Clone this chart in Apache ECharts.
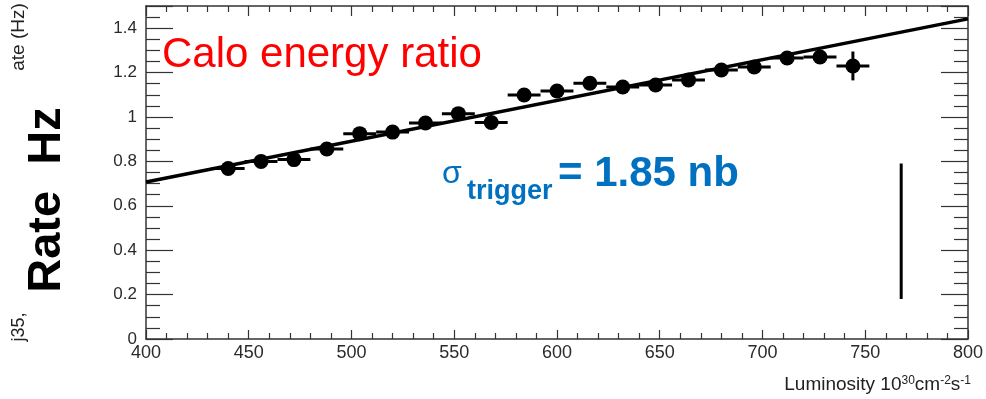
<!DOCTYPE html>
<html>
<head>
<meta charset="utf-8">
<script src="https://cdn.jsdelivr.net/npm/echarts@6/dist/echarts.min.js"></script>
<style>
  html, body { margin: 0; padding: 0; background: #fff; }
  #chart { width: 986px; height: 399px; }
</style>
</head>
<body>
<div id="chart"></div>
<script>
// measured points (luminosity bin centres, rate in Hz)
const lumi = [440, 456, 472, 488, 504, 520, 536, 552, 568, 584, 600, 616, 632, 648, 664, 680, 696, 712, 728, 744]
const rate = [0.768, 0.80, 0.808, 0.856, 0.925, 0.932, 0.973, 1.015, 0.975, 1.099, 1.117, 1.152, 1.135, 1.144, 1.167, 1.212, 1.225, 1.266, 1.27, 1.23]
const lumiErr = [8, 8, 8, 8, 8, 8, 8, 8, 8, 8, 8, 8, 8, 8, 8, 8, 8, 8, 8, 8]
const rateErr = [0.02, 0.02, 0.02, 0.02, 0.02, 0.02, 0.02, 0.02, 0.02, 0.02, 0.02, 0.02, 0.02, 0.02, 0.02, 0.02, 0.02, 0.025, 0.025, 0.065]

// linear fit
const fitLumi = [400, 800]
const fitRate = [0.707, 1.442]

// stray vertical bar on the right
const barLumi = [767.5, 767.5]
const barRate = [0.18, 0.79]

const xTicks = { min: 400, max: 800, interval: 50 }
const yTicks = { min: 0, max: 1.5, interval: 0.2 }

const axisColor = '#333'
const font = 'Liberation Sans, Arial, sans-serif'

const chart = echarts.init(document.getElementById('chart'), null, { renderer: 'canvas' })

const points = lumi.map((x, i) => [x, rate[i], lumiErr[i], rateErr[i]])

chart.setOption({
  animation: false,
  backgroundColor: '#fff',
  grid: {
    left: 146,
    right: 14,
    top: 6,
    bottom: 60
  },
  xAxis: [
    {
      type: 'value',
      position: 'bottom',
      min: xTicks.min,
      max: xTicks.max,
      interval: xTicks.interval,
      axisLine: { show: true, onZero: false, lineStyle: { color: axisColor, width: 1.5 } },
      axisTick: { show: true, inside: true, length: 9, lineStyle: { color: axisColor, width: 1.2 } },
      minorTick: { show: true, splitNumber: 5, length: 6, lineStyle: { color: axisColor, width: 1.2 } },
      splitLine: { show: false },
      axisLabel: { color: '#2a2a2a', fontSize: 18, fontFamily: font, margin: 5 }
    },
    {
      type: 'value',
      position: 'top',
      min: xTicks.min,
      max: xTicks.max,
      interval: xTicks.interval,
      axisLine: { show: true, onZero: false, lineStyle: { color: axisColor, width: 1.5 } },
      axisTick: { show: true, inside: true, length: 10, lineStyle: { color: axisColor, width: 1.2 } },
      minorTick: { show: true, splitNumber: 5, length: 6, lineStyle: { color: axisColor, width: 1.2 } },
      splitLine: { show: false },
      axisLabel: { show: false }
    }
  ],
  yAxis: [
    {
      type: 'value',
      position: 'left',
      min: yTicks.min,
      max: yTicks.max,
      interval: yTicks.interval,
      axisLine: { show: true, onZero: false, lineStyle: { color: axisColor, width: 1.5 } },
      axisTick: { show: true, inside: true, length: 27, lineStyle: { color: axisColor, width: 1.2 } },
      minorTick: { show: true, splitNumber: 4, length: 14, lineStyle: { color: axisColor, width: 1.2 } },
      splitLine: { show: false },
      axisLabel: { color: '#2a2a2a', fontSize: 17, fontFamily: font, margin: 9, showMaxLabel: false }
    },
    {
      type: 'value',
      position: 'right',
      min: yTicks.min,
      max: yTicks.max,
      interval: yTicks.interval,
      axisLine: { show: true, onZero: false, lineStyle: { color: axisColor, width: 1.5 } },
      axisTick: { show: true, inside: true, length: 27, lineStyle: { color: axisColor, width: 1.2 } },
      minorTick: { show: true, splitNumber: 4, length: 14, lineStyle: { color: axisColor, width: 1.2 } },
      splitLine: { show: false },
      axisLabel: { show: false }
    }
  ],
  series: [
    {
      name: 'fit',
      type: 'line',
      data: fitLumi.map((x, i) => [x, fitRate[i]]),
      symbol: 'none',
      lineStyle: { color: '#000', width: 3.5 },
      z: 2
    },
    {
      name: 'errors',
      type: 'custom',
      data: points,
      renderItem(params, api) {
        const x = api.value(0)
        const y = api.value(1)
        const xe = api.value(2)
        const ye = api.value(3)
        const l = api.coord([x - xe, y])
        const r = api.coord([x + xe, y])
        const b = api.coord([x, y - ye])
        const t = api.coord([x, y + ye])
        return {
          type: 'group',
          children: [
            { type: 'line', shape: { x1: l[0], y1: l[1], x2: r[0], y2: r[1] }, style: { stroke: '#000', lineWidth: 3 } },
            { type: 'line', shape: { x1: b[0], y1: b[1], x2: t[0], y2: t[1] }, style: { stroke: '#000', lineWidth: 3 } }
          ]
        }
      },
      z: 3
    },
    {
      name: 'rate',
      type: 'scatter',
      data: points.map(p => [p[0], p[1]]),
      symbol: 'circle',
      symbolSize: 15,
      itemStyle: { color: '#000', opacity: 1 },
      z: 4
    },
    {
      name: 'bar',
      type: 'line',
      data: barLumi.map((x, i) => [x, barRate[i]]),
      symbol: 'none',
      lineStyle: { color: '#000', width: 3 },
      z: 2
    }
  ],
  graphic: [
    {
      type: 'text',
      x: 162,
      y: 34,
      style: { text: 'Calo energy ratio', fill: '#ff0000', font: '42px ' + font }
    },
    {
      type: 'text',
      x: 442,
      y: 158,
      style: { text: 'σ', fill: '#0070c0', font: '32px ' + font }
    },
    {
      type: 'text',
      x: 467,
      y: 178,
      style: { text: 'trigger', fill: '#0070c0', font: 'bold 27px ' + font }
    },
    {
      type: 'text',
      x: 558,
      y: 153,
      style: { text: '= 1.85 nb', fill: '#0070c0', font: 'bold 42px ' + font }
    },
    {
      type: 'text',
      x: 47,
      y: 200,
      rotation: Math.PI / 2,
      style: { text: 'Rate  Hz', fill: '#000', font: 'bold 47px ' + font, align: 'center', verticalAlign: 'middle' }
    },
    {
      type: 'text',
      x: 19,
      y: 37,
      rotation: Math.PI / 2,
      style: { text: 'ate (Hz)', fill: '#222', font: '19px ' + font, align: 'center', verticalAlign: 'middle' }
    },
    {
      type: 'text',
      x: 19,
      y: 327,
      rotation: Math.PI / 2,
      style: { text: 'j35,', fill: '#222', font: '18px ' + font, align: 'center', verticalAlign: 'middle' }
    },
    {
      type: 'text',
      right: 15,
      top: 375,
      style: {
        text: '{t|Luminosity 10}{s|30}{t|cm}{s|-2}{t|s}{s|-1}',
        fill: '#222',
        rich: {
          t: { fontSize: 19, fontFamily: font, fill: '#222', verticalAlign: 'bottom' },
          s: { fontSize: 12, fontFamily: font, fill: '#222', verticalAlign: 'top' }
        }
      }
    }
  ]
})
</script>
</body>
</html>
